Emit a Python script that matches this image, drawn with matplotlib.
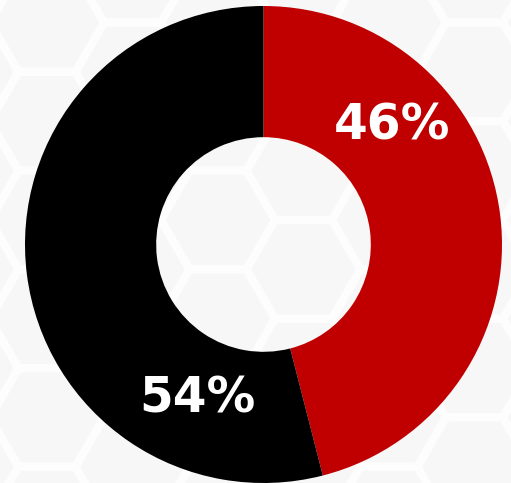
import numpy as np
import matplotlib
matplotlib.use("Agg")
import matplotlib.pyplot as plt
from matplotlib.patches import RegularPolygon

# share of the two groups
labels = ["46%", "54%"]
values = [46, 54]
colors = ["#C00000", "#000000"]

W, H = 511, 483
fig = plt.figure(figsize=(W / 100, H / 100), dpi=100)
fig.patch.set_facecolor("white")

# faint hexagon backdrop
bg = fig.add_axes([0, 0, 1, 1])
bg.set_xlim(0, W)
bg.set_ylim(H, 0)
bg.axis("off")
R = 57
dx = 1.5 * R
dy = np.sqrt(3) * R
x0, y0 = 218, 220
for i in range(-4, 6):
    for j in range(-4, 5):
        cx = x0 + i * dx
        cy = y0 + j * dy + (dy / 2 if i % 2 else 0)
        bg.add_patch(RegularPolygon((cx, cy), 6, radius=R, orientation=np.pi / 6,
                                    facecolor="#f7f7f7", edgecolor="#fdfdfd", lw=6))

# donut
cx_px, cy_px, r_px = 263.5, 244.5, 238.5
ax = fig.add_axes([(cx_px - r_px) / W, (H - cy_px - r_px) / H, 2 * r_px / W, 2 * r_px / H])
ax.set_facecolor("none")
ax.pie(values, colors=colors, startangle=90, counterclock=False, radius=1,
       wedgeprops=dict(width=0.55, edgecolor="none"))
ax.set_xlim(-1, 1)
ax.set_ylim(-1, 1)
ax.axis("off")

label_pos = [(0.539, 0.501), (-0.279, -0.644)]
for lab, (tx, ty) in zip(labels, label_pos):
    ax.text(tx, ty, lab, color="white", fontsize=35, fontweight="bold",
            ha="center", va="center", family="DejaVu Sans")

fig.savefig("out.png", dpi=100)
